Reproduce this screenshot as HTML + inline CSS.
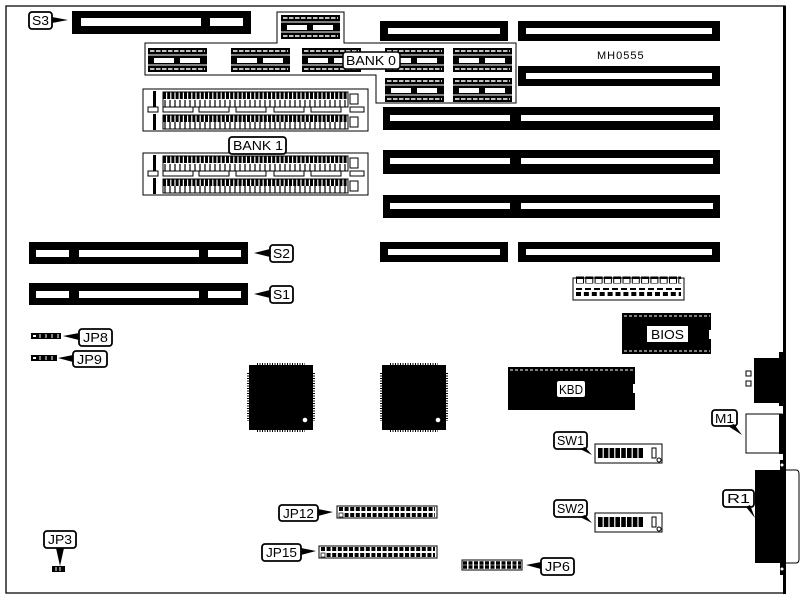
<!DOCTYPE html>
<html><head><style>
body{margin:0;background:#fff}
svg{display:block}
text{font-family:"Liberation Sans",sans-serif;font-size:13px;fill:#000}
</style></head><body>
<svg width="803" height="599" viewBox="0 0 803 599">
<defs>
<g id="dip">
 <rect x="0" y="0" width="59" height="24" fill="#000"/>
 <rect x="6" y="10" width="20" height="5" fill="#fff"/>
 <rect x="32" y="10" width="20" height="5" fill="#fff"/>
 <path d="M2 3h55M2 21h55" stroke="#fff" stroke-width="1.5" stroke-dasharray="4.5 1.5"/>
 <path d="M0 7h59M0 17h59" stroke="#fff" stroke-width="1"/>
</g>
<g id="simm">
 <rect x="0" y="0" width="225" height="42" fill="#fff" stroke="#000"/>
 <rect x="20" y="3" width="185" height="15" fill="#fff" stroke="#000"/>
 <path d="M20 6.5h185" stroke="#000" stroke-width="7" stroke-dasharray="3 1.2"/>
 <path d="M22 11v7M27 11v7M32 11v7M37 11v7M42 11v7M47 11v7M52 11v7M57 11v7M62 11v7M67 11v7M72 11v7M77 11v7M82 11v7M87 11v7M92 11v7M97 11v7M102 11v7M107 11v7M112 11v7M117 11v7M122 11v7M127 11v7M132 11v7M137 11v7M142 11v7M147 11v7M152 11v7M157 11v7M162 11v7M167 11v7M172 11v7M177 11v7M182 11v7M187 11v7M192 11v7M197 11v7M202 11v7" stroke="#000" stroke-width="1.2"/>
 <rect x="20" y="26" width="185" height="14" fill="#fff" stroke="#000"/>
 <path d="M20 29.5h185" stroke="#000" stroke-width="7" stroke-dasharray="3 1.2"/>
 <path d="M22 33v7M27 33v7M32 33v7M37 33v7M42 33v7M47 33v7M52 33v7M57 33v7M62 33v7M67 33v7M72 33v7M77 33v7M82 33v7M87 33v7M92 33v7M97 33v7M102 33v7M107 33v7M112 33v7M117 33v7M122 33v7M127 33v7M132 33v7M137 33v7M142 33v7M147 33v7M152 33v7M157 33v7M162 33v7M167 33v7M172 33v7M177 33v7M182 33v7M187 33v7M192 33v7M197 33v7M202 33v7" stroke="#000" stroke-width="1.2"/>
 <rect x="5" y="18" width="10" height="5" fill="#fff" stroke="#000"/>
 <rect x="20" y="18" width="30" height="5" fill="#fff" stroke="#000"/>
 <rect x="56" y="18" width="30" height="5" fill="#fff" stroke="#000"/>
 <rect x="93" y="18" width="30" height="5" fill="#fff" stroke="#000"/>
 <rect x="131" y="18" width="30" height="5" fill="#fff" stroke="#000"/>
 <rect x="168" y="18" width="30" height="5" fill="#fff" stroke="#000"/>
 <rect x="207" y="18" width="14" height="5" fill="#fff" stroke="#000"/>
 <rect x="10" y="2" width="3" height="16" fill="#000"/>
 <rect x="10" y="25" width="3" height="16" fill="#000"/>
 <rect x="207" y="5" width="8" height="10" fill="#fff" stroke="#000"/>
 <rect x="207" y="28" width="8" height="10" fill="#fff" stroke="#000"/>
</g>
<g id="qfp">
 <rect x="0" y="0" width="64" height="65" fill="#000"/>
 <path d="M8 -1h48M8 66h48" stroke="#000" stroke-width="2" stroke-dasharray="1 1.5"/>
 <path d="M-1 8v48M65 8v48" stroke="#000" stroke-width="2" stroke-dasharray="1 1.5"/>
 <circle cx="56" cy="55" r="2.3" fill="#fff"/>
</g>
</defs>

<path d="M6 6H785V593H6Z" fill="none" stroke="#000" stroke-width="1.3"/>
<rect x="783" y="6" width="3" height="588" fill="#000"/>

<rect x="72" y="11" width="179" height="23" fill="#000"/>
<rect x="81" y="18" width="120" height="8" fill="#fff"/>
<rect x="210" y="18" width="33" height="8" fill="#fff"/>

<path d="M277 43V12H344V43H516V103H376V75H145V43Z" fill="none" stroke="#000"/>
<use href="#dip" x="281" y="15"/>
<use href="#dip" x="148" y="48"/>
<use href="#dip" x="231" y="48"/>
<use href="#dip" x="302" y="48"/>
<use href="#dip" x="385" y="48"/>
<use href="#dip" x="453" y="48"/>
<use href="#dip" x="385" y="78"/>
<use href="#dip" x="453" y="78"/>
<rect x="343" y="52" width="57" height="17" rx="3" fill="#fff" stroke="#000" stroke-width="1.5"/>
<text x="346" y="65" textLength="50" lengthAdjust="spacingAndGlyphs">BANK 0</text>

<use href="#simm" x="143" y="89"/>
<use href="#simm" x="143" y="153"/>
<rect x="229" y="137" width="57" height="17" rx="3" fill="#fff" stroke="#000" stroke-width="1.8"/>
<text x="233" y="150" textLength="50" lengthAdjust="spacingAndGlyphs">BANK 1</text>

<rect x="380" y="21" width="128" height="20" fill="#000"/><rect x="388" y="28" width="112" height="6" fill="#fff"/>
<rect x="518" y="21" width="202" height="20" fill="#000"/><rect x="526" y="28" width="186" height="6" fill="#fff"/>
<text x="597" y="59" style="font-size:11px;letter-spacing:1px">MH0555</text>
<rect x="518" y="66" width="202" height="20" fill="#000"/><rect x="526" y="73" width="186" height="6" fill="#fff"/>
<rect x="383" y="107" width="337" height="23" fill="#000"/><rect x="390" y="115" width="120" height="6" fill="#fff"/><rect x="521" y="115" width="192" height="6" fill="#fff"/>
<rect x="383" y="150" width="337" height="24" fill="#000"/><rect x="390" y="158" width="120" height="6" fill="#fff"/><rect x="521" y="158" width="192" height="6" fill="#fff"/>
<rect x="383" y="195" width="337" height="23" fill="#000"/><rect x="390" y="203" width="120" height="6" fill="#fff"/><rect x="521" y="203" width="192" height="6" fill="#fff"/>
<rect x="380" y="242" width="128" height="20" fill="#000"/><rect x="388" y="249" width="112" height="6" fill="#fff"/>
<rect x="518" y="242" width="202" height="20" fill="#000"/><rect x="526" y="249" width="186" height="6" fill="#fff"/>

<rect x="29" y="242" width="219" height="22" fill="#000"/>
<rect x="36" y="250" width="33" height="7" fill="#fff"/><rect x="79" y="250" width="120" height="7" fill="#fff"/><rect x="208" y="250" width="33" height="7" fill="#fff"/>
<rect x="29" y="283" width="219" height="22" fill="#000"/>
<rect x="36" y="291" width="33" height="7" fill="#fff"/><rect x="79" y="291" width="120" height="7" fill="#fff"/><rect x="208" y="291" width="33" height="7" fill="#fff"/>

<g stroke="#000" stroke-width="1.8" fill="#fff">
 <rect x="29" y="12" width="23" height="17" rx="3"/>
 <rect x="270" y="245" width="23" height="17" rx="3"/>
 <rect x="270" y="286" width="23" height="17" rx="3"/>
 <rect x="79" y="329" width="33" height="17" rx="3"/>
 <rect x="73" y="351" width="34" height="16" rx="3"/>
 <rect x="44" y="531" width="32" height="17" rx="3"/>
 <rect x="279" y="505" width="39" height="16" rx="3"/>
 <rect x="262" y="544" width="39" height="17" rx="3"/>
 <rect x="541" y="558" width="33" height="17" rx="3"/>
 <rect x="554" y="432" width="33" height="17" rx="3"/>
 <rect x="554" y="500" width="33" height="17" rx="3"/>
 <rect x="712" y="410" width="25" height="16" rx="3"/>
 <rect x="723" y="490" width="31" height="17" rx="3"/>
</g>
<g fill="#000">
 <polygon points="52,17 68,20 52,23"/>
 <polygon points="270,249 254,253 270,257"/>
 <polygon points="270,290 254,294 270,298"/>
 <polygon points="79,333 63,336 79,340"/>
 <polygon points="73,355 58,358 73,362"/>
 <polygon points="56,548 60,566 64,548"/>
 <polygon points="318,509 333,512 318,516"/>
 <polygon points="301,548 316,551 301,555"/>
 <polygon points="541,562 526,565 541,569"/>
 <polygon points="580,449 592,455 585,447"/>
 <polygon points="580,517 592,523 585,515"/>
 <polygon points="728,426 742,435 734,424"/>
 <polygon points="746,507 755,518 750,505"/>
</g>
<g>
 <text x="32" y="25" textLength="17" lengthAdjust="spacingAndGlyphs">S3</text>
 <text x="273" y="258" textLength="17" lengthAdjust="spacingAndGlyphs">S2</text>
 <text x="273" y="299" textLength="17" lengthAdjust="spacingAndGlyphs">S1</text>
 <text x="83" y="342" textLength="25" lengthAdjust="spacingAndGlyphs">JP8</text>
 <text x="77" y="364" textLength="25" lengthAdjust="spacingAndGlyphs">JP9</text>
 <text x="48" y="544" textLength="24" lengthAdjust="spacingAndGlyphs">JP3</text>
 <text x="283" y="518" textLength="31" lengthAdjust="spacingAndGlyphs">JP12</text>
 <text x="266" y="557" textLength="31" lengthAdjust="spacingAndGlyphs">JP15</text>
 <text x="545" y="571" textLength="25" lengthAdjust="spacingAndGlyphs">JP6</text>
 <text x="557" y="445" textLength="27" lengthAdjust="spacingAndGlyphs">SW1</text>
 <text x="557" y="513" textLength="27" lengthAdjust="spacingAndGlyphs">SW2</text>
 <text x="715" y="423" textLength="19" lengthAdjust="spacingAndGlyphs">M1</text>
 <text x="727" y="503" textLength="23" lengthAdjust="spacingAndGlyphs">R1</text>
</g>

<rect x="31" y="333" width="30" height="6" fill="#000"/><rect x="33" y="335" width="3" height="2" fill="#fff"/><path d="M40 334v4M46 334v4M52 334v4M58 334v4" stroke="#fff"/>
<rect x="31" y="355" width="26" height="6" fill="#000"/><rect x="33" y="357" width="3" height="2" fill="#fff"/><path d="M40 356v4M46 356v4M52 356v4" stroke="#fff"/>
<rect x="52" y="566" width="13" height="6" fill="#000"/><path d="M56 567v4M60 567v4" stroke="#fff"/>
<rect x="337" y="506" width="100" height="12" fill="#fff" stroke="#000"/>
<path d="M339 509h96M339 515h96" stroke="#000" stroke-width="4" stroke-dasharray="4 1.6"/>
<rect x="339" y="513" width="4" height="4" fill="#fff" stroke="#000" stroke-width="0.7"/>
<rect x="319" y="546" width="118" height="12" fill="#fff" stroke="#000"/>
<path d="M321 549h114M321 555h114" stroke="#000" stroke-width="4" stroke-dasharray="4 1.6"/>
<rect x="321" y="553" width="4" height="4" fill="#fff" stroke="#000" stroke-width="0.7"/>
<rect x="462" y="560" width="60" height="10" fill="#fff" stroke="#000"/>
<path d="M463 563h58M463 567h58" stroke="#000" stroke-width="3.5" stroke-dasharray="4 1.5"/>

<use href="#qfp" x="249" y="365"/>
<use href="#qfp" x="382" y="365"/>

<rect x="573" y="278" width="111" height="22" fill="#fff" stroke="#000"/>
<path d="M576 280h105" stroke="#000" stroke-width="7" stroke-dasharray="8 1.3"/>
<path d="M577 281h104" stroke="#fff" stroke-width="4" stroke-dasharray="6 3.3"/>
<path d="M576 289h105" stroke="#000" stroke-width="2" stroke-dasharray="6 3"/>
<path d="M576 294h105" stroke="#000" stroke-width="4" stroke-dasharray="5 2.9"/>

<rect x="622" y="313" width="89" height="41" fill="#000"/>
<path d="M624 316h86M624 351h86" stroke="#fff" stroke-dasharray="3 2"/>
<rect x="709" y="330" width="3" height="9" fill="#fff"/>
<rect x="647" y="326" width="41" height="16" fill="#fff"/>
<text x="651" y="339" textLength="33" lengthAdjust="spacingAndGlyphs">BIOS</text>

<rect x="508" y="367" width="127" height="43" fill="#000"/>
<path d="M510 370h124" stroke="#fff" stroke-dasharray="3 2"/>
<rect x="633" y="384" width="3" height="9" fill="#fff"/>
<rect x="557" y="381" width="28" height="16" rx="2" fill="#fff"/>
<text x="559" y="394" textLength="24" lengthAdjust="spacingAndGlyphs">KBD</text>

<rect x="595" y="444" width="67" height="19" fill="#fff" stroke="#000"/>
<path d="M598 453h45" stroke="#000" stroke-width="10" stroke-dasharray="4.6 1.2"/>
<rect x="652" y="448" width="4" height="10" fill="#fff" stroke="#000"/>
<circle cx="659" cy="460" r="2" fill="#fff" stroke="#000"/>
<rect x="595" y="513" width="67" height="19" fill="#fff" stroke="#000"/>
<path d="M598 522h45" stroke="#000" stroke-width="10" stroke-dasharray="4.6 1.2"/>
<rect x="652" y="517" width="4" height="10" fill="#fff" stroke="#000"/>
<circle cx="659" cy="529" r="2" fill="#fff" stroke="#000"/>

<rect x="754" y="358" width="30" height="45" fill="#000"/>
<rect x="779" y="352" width="5" height="54" fill="#000"/>
<rect x="746" y="371" width="5" height="5" fill="#fff" stroke="#000"/>
<rect x="746" y="381" width="5" height="5" fill="#fff" stroke="#000"/>
<rect x="746" y="414" width="36" height="39" fill="#fff" stroke="#000"/>
<rect x="779" y="414" width="5" height="40" fill="#000"/>
<rect x="755" y="470" width="30" height="93" fill="#000"/>
<rect x="780" y="460" width="5" height="115" fill="#000"/>
<path d="M786 470H796Q799 470 799 474V559Q799 563 796 563H786" fill="#fff" stroke="#000"/>
<circle cx="782" cy="465" r="1.5" fill="#fff"/>
<circle cx="782" cy="569" r="1.5" fill="#fff"/>
</svg>
</body></html>
